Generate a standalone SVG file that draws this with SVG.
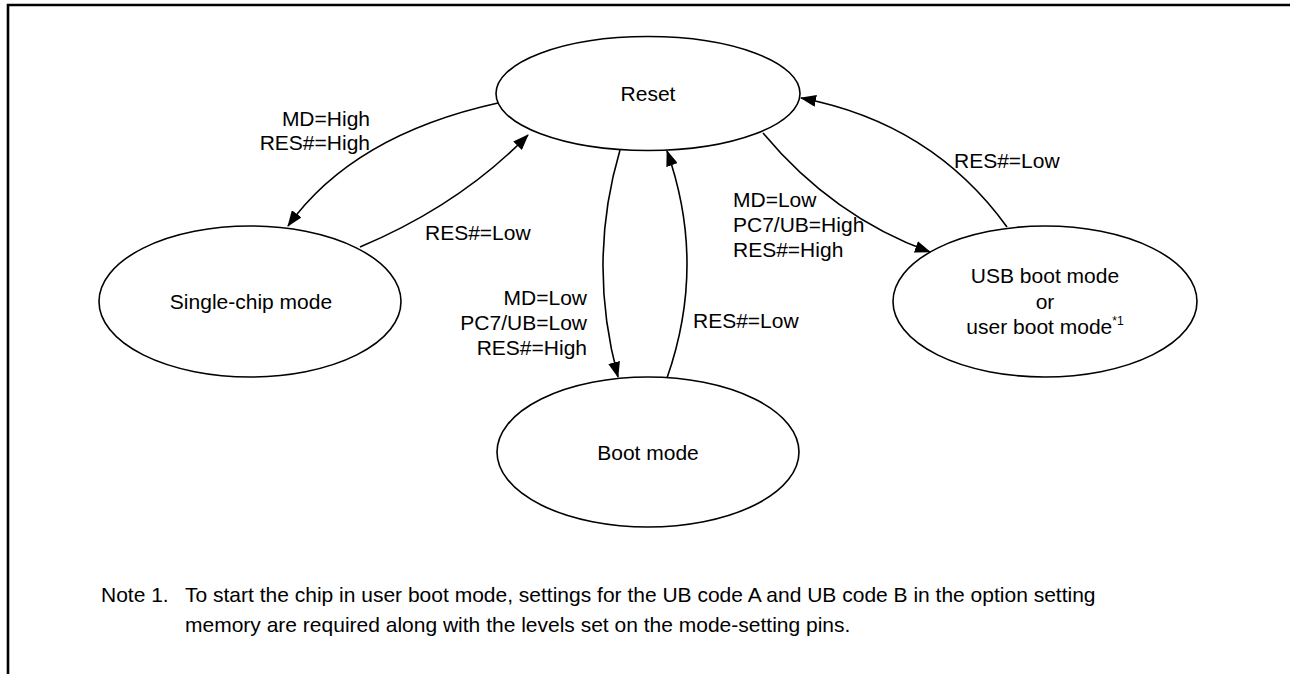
<svg xmlns="http://www.w3.org/2000/svg" width="1290" height="674" viewBox="0 0 1290 674">
<style>
.node ellipse{fill:#fff;stroke:#000;stroke-width:1.6}
.t{font-family:"Liberation Sans",Arial,sans-serif;font-size:21px;fill:#000}
.c{text-anchor:middle}
.r{text-anchor:end}
.conn path{fill:none;stroke:#000;stroke-width:1.6;marker-end:url(#ah)}
.note{font-family:"Liberation Sans",Arial,sans-serif;font-size:21px;fill:#000}
</style>
<defs>
<marker id="ah" markerUnits="userSpaceOnUse" markerWidth="16" markerHeight="12" refX="15" refY="6" orient="auto" viewBox="0 0 16 12">
<path d="M0,0 L16,6 L0,12 z" fill="#000"/>
</marker>
</defs>
<rect width="1290" height="674" fill="#fff"/>
<polyline points="8,674 8,5 1290,5" fill="none" stroke="#000" stroke-width="2.6"/>

<g id="reset" class="node">
<ellipse cx="648" cy="93.5" rx="152" ry="57"/>
<text class="t c" x="648" y="101">Reset</text>
</g>
<g id="single-chip" class="node">
<ellipse cx="250" cy="301.5" rx="151" ry="75.5"/>
<text class="t c" x="251" y="309">Single-chip mode</text>
</g>
<g id="boot" class="node">
<ellipse cx="648" cy="452" rx="151" ry="75"/>
<text class="t c" x="648" y="460">Boot mode</text>
</g>
<g id="usb" class="node">
<ellipse cx="1045" cy="301.5" rx="152" ry="75.5"/>
<text class="t c" x="1045" y="283">USB boot mode</text>
<text class="t c" x="1045" y="309">or</text>
<text class="t c" x="1045" y="334">user boot mode<tspan font-size="12" dy="-9">*1</tspan></text>
</g>

<g id="connectors" class="conn">
<path d="M498,103 Q353,135 288,226"/>
<path d="M360,247 Q460,205 528,135"/>
<path d="M620,150 Q587,262 618,377"/>
<path d="M667,378 Q707,264 667,151"/>
<path d="M763,133 Q833,217 930,252"/>
<path d="M1007,227 Q932,123 801,98"/>
</g>

<g id="labels">
<text class="t r" x="370" y="126">MD=High</text>
<text class="t r" x="370" y="150">RES#=High</text>
<text class="t" x="425" y="240">RES#=Low</text>
<text class="t" x="733" y="207">MD=Low</text>
<text class="t" x="733" y="232">PC7/UB=High</text>
<text class="t" x="733" y="257">RES#=High</text>
<text class="t" x="693" y="328">RES#=Low</text>
<text class="t" x="954" y="168">RES#=Low</text>
<text class="t r" x="587" y="305">MD=Low</text>
<text class="t r" x="587" y="330">PC7/UB=Low</text>
<text class="t r" x="587" y="355">RES#=High</text>
</g>

<g id="note">
<text class="note" x="101" y="602">Note 1.</text>
<text class="note" x="185" y="602">To start the chip in user boot mode, settings for the UB code A and UB code B in the option setting</text>
<text class="note" x="185" y="632">memory are required along with the levels set on the mode-setting pins.</text>
</g>
</svg>
